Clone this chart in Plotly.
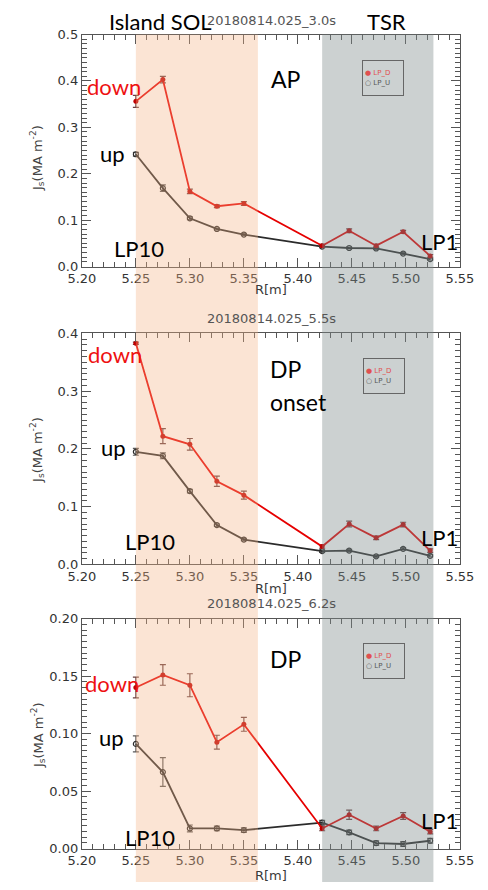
import plotly.graph_objects as go

# Probe positions along the divertor target, R in metres (LP10 ... LP1)
R = [5.25, 5.275, 5.30, 5.325, 5.35, 5.4225, 5.4475, 5.4725, 5.4975, 5.5225]

# Ion saturation current density J_s (MA m^-2) with error bars, three time slices
down_30 = [0.356, 0.403, 0.162, 0.130, 0.136, 0.045, 0.077, 0.045, 0.075, 0.023]
down_30_err = [0.013, 0.007, 0.005, 0.003, 0.004, 0.003, 0.004, 0.003, 0.003, 0.003]
up_30 = [0.242, 0.169, 0.104, 0.081, 0.069, 0.043, 0.040, 0.039, 0.028, 0.016]
up_30_err = [0.004, 0.007, 0.003, 0.002, 0.002, 0.002, 0.002, 0.002, 0.002, 0.002]

down_55 = [0.383, 0.222, 0.208, 0.144, 0.120, 0.031, 0.070, 0.046, 0.069, 0.024]
down_55_err = [0.002, 0.013, 0.010, 0.009, 0.007, 0.003, 0.005, 0.003, 0.004, 0.003]
up_55 = [0.195, 0.188, 0.127, 0.068, 0.043, 0.023, 0.024, 0.014, 0.027, 0.015]
up_55_err = [0.006, 0.005, 0.003, 0.002, 0.002, 0.002, 0.002, 0.002, 0.002, 0.002]

down_62 = [0.140, 0.151, 0.142, 0.0925, 0.108, 0.0175, 0.0294, 0.0175, 0.0283, 0.0147]
down_62_err = [0.009, 0.009, 0.010, 0.006, 0.006, 0.002, 0.004, 0.002, 0.003, 0.002]
up_62 = [0.091, 0.0665, 0.0175, 0.0175, 0.016, 0.0226, 0.0141, 0.0048, 0.004, 0.0068]
up_62_err = [0.007, 0.0125, 0.003, 0.002, 0.002, 0.002, 0.002, 0.002, 0.002, 0.002]

titles = ["20180814.025_3.0s", "20180814.025_5.5s", "20180814.025_6.2s"]
y_ranges = [[0, 0.5], [0, 0.4], [0, 0.2]]
y_dticks = [0.1, 0.1, 0.05]
y_minor = [0.01, 0.01, 0.005]
y_formats = [".1f", ".1f", ".2f"]

# Region boundaries in R
island_sol = [5.25, 5.363]
tsr = [5.4225, 5.5255]

W, H = 488, 890
RED = "#e60000"
BLACK = "#2b2b2b"
AXC = "#555555"
TICKFONT = dict(family="DejaVu Sans", size=13, color="#333333")
BIGFONT = "Lato"


def px(x, y):
    return x / W, 1 - y / H


# panel pixel boxes (top, bottom) and plot x extent
x_left, x_right = 72, 473
panels = [(28, 264), (332, 567), (622, 856)]

fig = go.Figure()

series = [
    (down_30, down_30_err, up_30, up_30_err),
    (down_55, down_55_err, up_55, up_55_err),
    (down_62, down_62_err, up_62, up_62_err),
]

for i, (dn, dn_e, up, up_e) in enumerate(series):
    sfx = "" if i == 0 else str(i + 1)
    xa, ya = "x" + sfx, "y" + sfx
    fig.add_trace(go.Scatter(
        x=R, y=up, xaxis=xa, yaxis=ya, mode="lines+markers", name="LP_U",
        line=dict(color=BLACK, width=1.8),
        marker=dict(symbol="circle-open", size=5, color=BLACK, line=dict(width=1.2)),
        error_y=dict(type="data", array=up_e, color="#5a5a5a", thickness=1.2, width=3),
        showlegend=False,
    ))
    fig.add_trace(go.Scatter(
        x=R, y=dn, xaxis=xa, yaxis=ya, mode="lines+markers", name="LP_D",
        line=dict(color=RED, width=1.8),
        marker=dict(symbol="circle", size=5, color="#c00000"),
        error_y=dict(type="data", array=dn_e, color="#6a4040", thickness=1.2, width=3),
        showlegend=False,
    ))

axis_common = dict(
    showline=True, linecolor=AXC, linewidth=1, mirror="allticks",
    ticks="inside", ticklen=9, tickwidth=1, tickcolor=AXC,
    showgrid=False, zeroline=False, tickfont=TICKFONT,
)

layout = dict(
    width=W, height=H, margin=dict(l=0, r=0, t=0, b=0),
    paper_bgcolor="white", plot_bgcolor="white", showlegend=False,
)

for i, (top, bot) in enumerate(panels):
    sfx = "" if i == 0 else str(i + 1)
    layout["xaxis" + sfx] = dict(
        axis_common, range=[5.20, 5.55], tick0=5.20, dtick=0.05, tickformat=".2f",
        domain=[x_left / W, x_right / W], anchor="y" + sfx,
        minor=dict(dtick=0.01, ticks="inside", ticklen=5, tickwidth=1,
                   tickcolor=AXC, showgrid=False),
    )
    layout["yaxis" + sfx] = dict(
        axis_common, range=y_ranges[i], tick0=0, dtick=y_dticks[i], tickformat=y_formats[i],
        domain=[1 - bot / H, 1 - top / H], anchor="x" + sfx,
        minor=dict(dtick=y_minor[i], ticks="inside", ticklen=5, tickwidth=1,
                   tickcolor=AXC, showgrid=False),
    )

fig.update_layout(**layout)

# Shaded regions laid over the panels: island SOL and TSR
band_top = 1 - panels[0][0] / H
fig.add_shape(type="rect", xref="x", yref="paper", x0=island_sol[0], x1=island_sol[1],
              y0=0, y1=band_top, fillcolor="#F4B183", opacity=0.35, line=dict(width=0),
              layer="above")
fig.add_shape(type="rect", xref="x", yref="paper", x0=tsr[0], x1=tsr[1],
              y0=0, y1=band_top, fillcolor="#7F8C8C", opacity=0.4, line=dict(width=0),
              layer="above")

annotations = []


def label(text, x, y, size=22, color="black", family=BIGFONT, xanchor="center", **kw):
    ax, ay = px(x, y)
    annotations.append(dict(text=text, x=ax, y=ay, xref="paper", yref="paper",
                            showarrow=False, xanchor=xanchor, yanchor="middle",
                            font=dict(family=family, size=size, color=color), **kw))


# panel titles, axis titles, legend boxes
title_y = [14, 317, 607]
xtitle_y = [287, 591, 883]
ytitle_y = [154, 451, 741]
legend_box = [(391, 72), (392, 375), (393, 665)]
for i in range(3):
    label(titles[i], 273, title_y[i], size=13, color="#555555", family="DejaVu Sans")
    label("R[m]", 273, xtitle_y[i], size=13, color="#3a3a3a", family="DejaVu Sans")
    label("J<sub>s</sub>(MA m<sup>-2</sup>)", 25, ytitle_y[i], size=13, color="#444444",
          family="DejaVu Sans", textangle=-90)
    lx, ly = legend_box[i]
    label("<span style='color:#e05050'>\u25cf LP_D</span><br>"
          "<span style='color:#555555'>\u25cb LP_U</span>",
          lx, ly, size=7, color="#555555", family="DejaVu Sans",
          width=36, height=30, borderpad=2, align="left",
          bordercolor="#666666", borderwidth=1)

# region names
label("Island SOL", 155, 15)
label("TSR", 395, 15)

# regime and probe labels, panel by panel
label("AP", 270, 73, size=23, xanchor="left")
label("down", 106, 81, color="#ee1111")
label("up", 104, 149)
label("LP10", 133, 246)
label("LP1", 451, 239)

label("DP", 269, 368, size=23, xanchor="left")
label("onset", 269, 402, size=23, xanchor="left")
label("down", 107, 353, color="#ee1111")
label("up", 106, 448)
label("LP10", 144, 544)
label("LP1", 451, 540)

label("DP", 269, 663, size=23, xanchor="left")
label("down", 104, 688, color="#ee1111")
label("up", 103, 743)
label("LP10", 144, 845)
label("LP1", 451, 827)

fig.update_layout(annotations=annotations)

fig.write_html("out.html")
